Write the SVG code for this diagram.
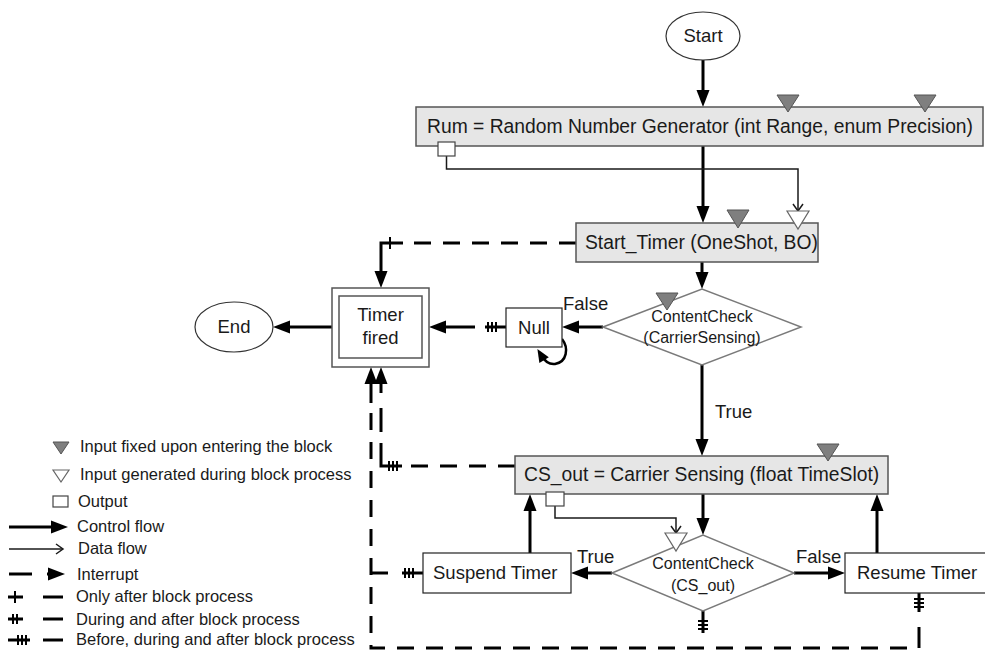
<svg xmlns="http://www.w3.org/2000/svg" width="985" height="652" viewBox="0 0 985 652">
  <style>
    .txt{font-family:"Liberation Sans",Arial,sans-serif;font-size:18.5px;fill:#1a1a1a}
    .big{font-size:19.3px}
    .sm{font-size:16px}
    .lg{font-size:16.5px}
    .mid{text-anchor:middle}
    .box{fill:#e6e6e6;stroke:#555;stroke-width:1.5}
    .plain{fill:#fff;stroke:#222;stroke-width:1.2}
    .frame{fill:#fff;stroke:#555;stroke-width:1.5}
    .dia{fill:#fff;stroke:#7a7a7a;stroke-width:1.5}
    .oval{fill:#fff;stroke:#333;stroke-width:1.2}
    .fixed{fill:#7f7f7f;stroke:#555;stroke-width:1}
    .gen{fill:#fff;stroke:#666;stroke-width:1.2}
    .out{fill:#fff;stroke:#444;stroke-width:1.2}
    .ctrl{fill:none;stroke:#000;stroke-width:3}
    .data{fill:none;stroke:#1a1a1a;stroke-width:1.5}
    .intr{fill:none;stroke:#000;stroke-width:3;stroke-dasharray:17 12}
    .tick{fill:none;stroke:#000;stroke-width:2}
  </style>
  <defs>
    <marker id="ah" markerUnits="userSpaceOnUse" markerWidth="18" markerHeight="13" refX="9" refY="6.5" orient="auto" overflow="visible">
      <path d="M0,0 L17,6.5 L0,13 z" fill="#000"/>
    </marker>
    <marker id="ahs" markerUnits="userSpaceOnUse" markerWidth="14" markerHeight="11" refX="6" refY="5.5" orient="auto" overflow="visible">
      <path d="M0,0 L13,5.5 L0,11 z" fill="#000"/>
    </marker>
    <marker id="oh" markerUnits="userSpaceOnUse" markerWidth="10" markerHeight="12" refX="8" refY="6" orient="auto" overflow="visible">
      <path d="M1,1 L8,6 L1,11" fill="none" stroke="#1a1a1a" stroke-width="1.5"/>
    </marker>
  </defs>

  <!-- connectors -->
  <g id="connectors">
    <!-- control flow -->
    <path class="ctrl" d="M703,60 V99" marker-end="url(#ah)"/>
    <path class="ctrl" d="M703,146 V215" marker-end="url(#ah)"/>
    <path class="ctrl" d="M702,262 V281" marker-end="url(#ah)"/>
    <path class="ctrl" d="M603,327 H570" marker-end="url(#ah)"/>
    <path class="ctrl" d="M702,365 V448" marker-end="url(#ah)"/>
    <path class="ctrl" d="M703,494 V527" marker-end="url(#ah)"/>
    <path class="ctrl" d="M612,573 H579" marker-end="url(#ah)"/>
    <path class="ctrl" d="M794,573 H837" marker-end="url(#ah)"/>
    <path class="ctrl" d="M530,553 V502" marker-end="url(#ah)"/>
    <path class="ctrl" d="M877,553 V502" marker-end="url(#ah)"/>
    <path class="ctrl" d="M332,327 H281" marker-end="url(#ah)"/>
    <!-- Null waits on itself -->
    <path d="M562,339 C569,348 567,362 555,364 C548,365 544,360 541,355" fill="none" stroke="#000" stroke-width="2.5" marker-end="url(#ahs)"/>

    <!-- data flow -->
    <path class="data" d="M446.5,156 V169 H798 V211" marker-end="url(#oh)"/>
    <path class="data" d="M555,506 V518 H676 V533" marker-end="url(#oh)"/>

    <!-- interrupt: Start_Timer to Timer fired -->
    <path class="intr" d="M576,243 H414"/>
    <path class="ctrl" d="M403,243 H381 V280" marker-end="url(#ah)"/>
    <path class="tick" d="M390,237 V249"/>

    <!-- interrupt: Null to Timer fired -->
    <path class="ctrl" d="M506,327 H485"/>
    <path class="tick" d="M488,322 V332 M492,322 V332 M496,322 V332"/>
    <path class="ctrl" d="M475,327 H437" marker-end="url(#ah)"/>

    <!-- interrupt: CS_out to Timer fired -->
    <path class="intr" d="M515,466 H411"/>
    <path class="ctrl" d="M402,466 H381 V443"/>
    <path class="tick" d="M389,461 V471 M393,461 V471 M397,461 V471"/>
    <path class="ctrl" d="M381,432 V408"/>
    <path class="ctrl" d="M381,393 V375" marker-end="url(#ah)"/>

    <!-- interrupt: Suspend Timer, Resume Timer, ContentCheck to Timer fired -->
    <path class="intr" d="M907,648 H371 V408"/>
    <path class="ctrl" d="M371,403 V375" marker-end="url(#ah)"/>
    <path class="ctrl" d="M423,573 H402"/>
    <path class="tick" d="M405,568 V578 M409,568 V578 M413,568 V578"/>
    <path class="ctrl" d="M388,573 H371"/>
    <path class="ctrl" d="M919,593 V612"/>
    <path class="tick" d="M914,599 H924 M914,603 H924 M914,607 H924"/>
    <path class="ctrl" d="M919,627 V648"/>
    <path class="ctrl" d="M703,611 V633"/>
    <path class="tick" d="M698,621 H708 M698,625 H708 M698,629 H708"/>

    <!-- branch labels -->
    <text class="txt" x="563" y="310">False</text>
    <text class="txt" x="715" y="418">True</text>
    <text class="txt" x="577" y="563">True</text>
    <text class="txt" x="796" y="563">False</text>
  </g>

  <!-- nodes -->
  <g id="start">
    <ellipse class="oval" cx="703" cy="36" rx="37" ry="24"/>
    <text class="txt mid" x="703" y="42">Start</text>
  </g>

  <g id="rum">
    <rect class="box" x="416" y="107" width="567" height="39"/>
    <text class="txt big" x="427" y="133">Rum = Random Number Generator (int Range, enum Precision)</text>
    <polygon class="fixed" points="777,95 799,95 788,112"/>
    <polygon class="fixed" points="914,95 936,95 925,112"/>
    <rect class="out" x="438" y="142" width="17" height="14"/>
  </g>

  <g id="start-timer">
    <rect class="box" x="576" y="223" width="242" height="39"/>
    <text class="txt big" x="585" y="249">Start_Timer (OneShot, BO)</text>
    <polygon class="fixed" points="727,210 749,210 738,228"/>
    <polygon class="gen" points="787,211 809,211 798,229"/>
  </g>

  <g id="check-carrier">
    <polygon class="dia" points="603,327 702,289 801,327 702,365"/>
    <polygon class="fixed" points="656,293 678,293 667,310"/>
    <text class="txt sm mid" x="702" y="322">ContentCheck</text>
    <text class="txt sm mid" x="702" y="343">(CarrierSensing)</text>
  </g>

  <g id="null">
    <rect class="plain" x="506" y="308" width="56" height="39"/>
    <text class="txt mid" x="534" y="334">Null</text>
  </g>

  <g id="timer-fired">
    <rect class="frame" x="332" y="288" width="97" height="79"/>
    <rect class="frame" x="339" y="296" width="83" height="62"/>
    <text class="txt mid" x="380.5" y="321">Timer</text>
    <text class="txt mid" x="380.5" y="344">fired</text>
  </g>

  <g id="end">
    <ellipse class="oval" cx="234" cy="327" rx="39" ry="25"/>
    <text class="txt mid" x="234" y="333">End</text>
  </g>

  <g id="cs-out">
    <rect class="box" x="515" y="456" width="373" height="38"/>
    <text class="txt big" x="524" y="481">CS_out = Carrier Sensing (float TimeSlot)</text>
    <polygon class="fixed" points="817,444 839,444 828,461"/>
    <rect class="out" x="546" y="492" width="18" height="14"/>
  </g>

  <g id="check-cs">
    <polygon class="dia" points="612,573 703,535 794,573 703,611"/>
    <polygon class="gen" points="665,533 687,533 676,551"/>
    <text class="txt sm mid" x="703" y="569">ContentCheck</text>
    <text class="txt sm mid" x="703" y="591">(CS_out)</text>
  </g>

  <g id="suspend-timer">
    <rect class="plain" x="423" y="553" width="148" height="40"/>
    <text class="txt" x="433" y="579">Suspend Timer</text>
  </g>

  <g id="resume-timer">
    <rect class="plain" x="845" y="553" width="150" height="40"/>
    <text class="txt" x="857" y="579">Resume Timer</text>
  </g>

  <!-- key -->
  <g id="legend">
    <polygon class="fixed" points="53,442 69,442 61,454"/>
    <text class="txt lg" x="80" y="452">Input fixed upon entering the block</text>
    <polygon class="gen" points="53,470 69,470 61,482"/>
    <text class="txt lg" x="80" y="480">Input generated during block process</text>
    <rect class="out" x="53" y="496" width="15" height="11"/>
    <text class="txt lg" x="78" y="507">Output</text>
    <path class="ctrl" d="M9,527 H60" marker-end="url(#ah)"/>
    <text class="txt lg" x="77" y="532">Control flow</text>
    <path class="data" d="M9,549 H63" marker-end="url(#oh)"/>
    <text class="txt lg" x="78" y="554">Data flow</text>
    <path class="ctrl" d="M9,574 H32"/>
    <path class="ctrl" d="M47,574 H57" marker-end="url(#ah)"/>
    <text class="txt lg" x="77" y="580">Interrupt</text>
    <path class="ctrl" d="M8,597 H23 M43,597 H63"/>
    <path class="tick" d="M15,591 V603"/>
    <text class="txt lg" x="76" y="602">Only after block process</text>
    <path class="ctrl" d="M8,619 H23 M43,619 H63"/>
    <path class="tick" d="M13,614 V624 M17,614 V624"/>
    <text class="txt lg" x="76" y="625">During and after block process</text>
    <path class="ctrl" d="M8,640 H30 M43,640 H63"/>
    <path class="tick" d="M18,635 V645 M22,635 V645 M26,635 V645"/>
    <text class="txt lg" x="76" y="645">Before, during and after block process</text>
  </g>
</svg>
